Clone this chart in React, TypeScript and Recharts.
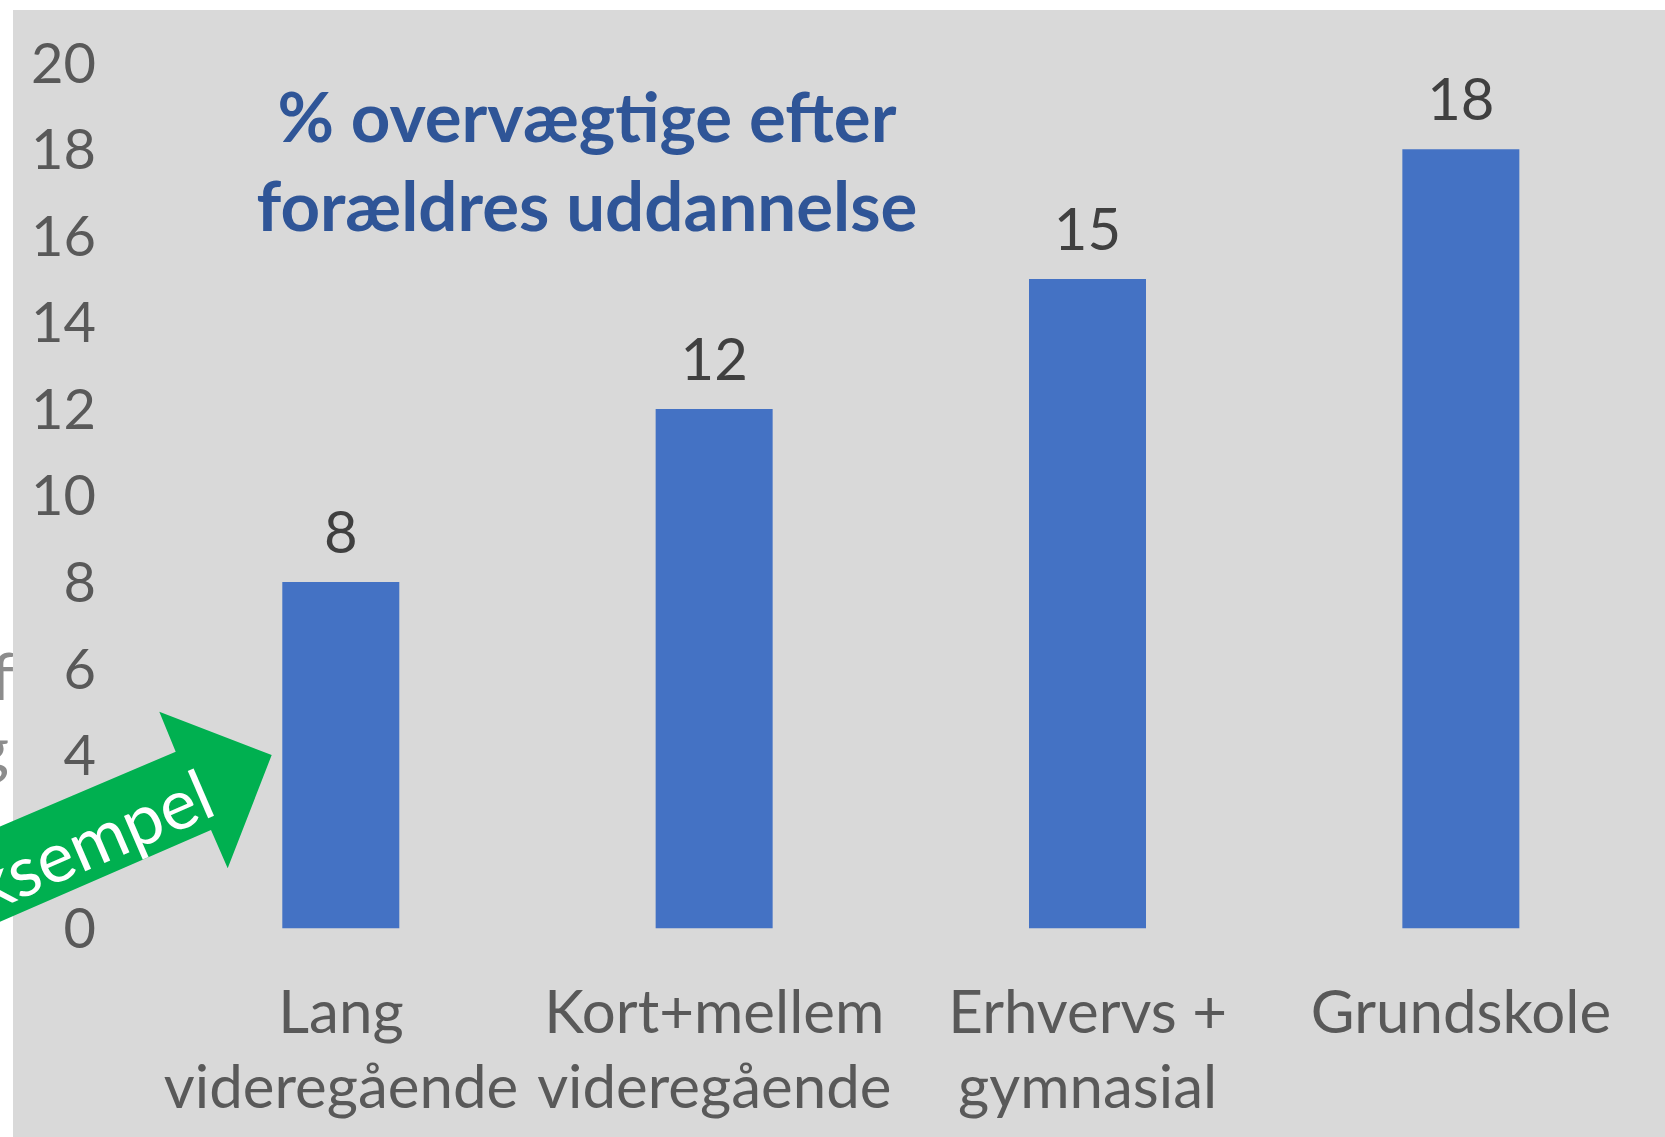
import { BarChart, Bar, XAxis, YAxis, LabelList } from "recharts";

// values
const categories = [
  ["Lang", "videregående"],
  ["Kort+mellem", "videregående"],
  ["Erhvervs +", "gymnasial"],
  ["Grundskole"],
];
const values = [8, 12, 15, 18];
const yTicks = [0, 2, 4, 6, 8, 10, 12, 14, 16, 18, 20];
const titleLines = ["% overvægtige efter", "forældres uddannelse"];
const arrowText = "Eksempel";

const W = 1665;
const H = 1137;
const FONT = "Lato, 'Open Sans', sans-serif";

const data = categories.map((c, i) => ({ name: c.join("\n"), value: values[i] }));

function YTick(props: any) {
  const { y, payload } = props;
  return (
    <text x={96} y={y} dy="0.355em" textAnchor="end" fill="#595959" fontSize={56} fontFamily={FONT}>
      {payload.value}
    </text>
  );
}

function XTick(props: any) {
  const { x, y, payload } = props;
  const lines = String(payload.value).split("\n");
  return (
    <text x={x} y={y} textAnchor="middle" fill="#595959" fontSize={60} fontFamily={FONT}>
      {lines.map((l, i) => (
        <tspan key={i} x={x} dy={i === 0 ? 105 : 75}>
          {l}
        </tspan>
      ))}
    </text>
  );
}

export default function App() {
  return (
    <div style={{ position: "absolute", left: 0, top: 0, width: W, height: H, background: "#fff", overflow: "hidden" }}>
      {/* background with the clipped letters of text lying behind the chart */}
      <svg width={W} height={H} style={{ position: "absolute", left: 0, top: 0 }}>
        <text x={14} y={700} textAnchor="end" fill="#8c8c8c" fontSize={66} fontFamily={FONT}>
          f
        </text>
        <text x={9} y={772} textAnchor="end" fill="#8c8c8c" fontSize={66} fontFamily={FONT}>
          g
        </text>
        <rect x={13} y={10} width={W - 13} height={H - 10} fill="#D9D9D9" />
      </svg>

      <div style={{ position: "absolute", left: 0, top: 0 }}>
        <BarChart
          width={W}
          height={H}
          data={data}
          margin={{ top: 62.7, right: 17.3, bottom: 108.7, left: 0 }}
        >
          <XAxis
            dataKey="name"
            height={100}
            axisLine={false}
            tickLine={false}
            tickSize={0}
            tickMargin={0}
            interval={0}
            tick={<XTick />}
          />
          <YAxis
            domain={[0, 20]}
            ticks={yTicks}
            width={154.3}
            axisLine={false}
            tickLine={false}
            interval={0}
            tick={<YTick />}
          />
          <Bar dataKey="value" fill="#4472C4" barSize={117} isAnimationActive={false}>
            <LabelList
              dataKey="value"
              position="top"
              offset={29}
              fill="#404040"
              fontSize={58}
              fontFamily={FONT}
            />
          </Bar>
        </BarChart>
      </div>

      {/* title + green "Eksempel" arrow */}
      <svg width={W} height={H} style={{ position: "absolute", left: 0, top: 0, pointerEvents: "none" }}>
        <text textAnchor="middle" fill="#2F5597" fontSize={69} fontWeight={700} fontFamily={FONT}>
          <tspan x={587} y={142}>{titleLines[0]}</tspan>
          <tspan x={587} y={231}>{titleLines[1]}</tspan>
        </text>
        <polygon
          points="-60,852 175.7,751.7 159.3,711.7 271.7,755 227.7,868.3 211,830 -60,948"
          fill="#00B050"
        />
        <text
          x={208}
          y={789}
          textAnchor="end"
          dominantBaseline="central"
          fill="#fff"
          fontSize={70}
          fontFamily={FONT}
          transform="rotate(-23.3 208 789)"
        >
          {arrowText}
        </text>
      </svg>
    </div>
  );
}
